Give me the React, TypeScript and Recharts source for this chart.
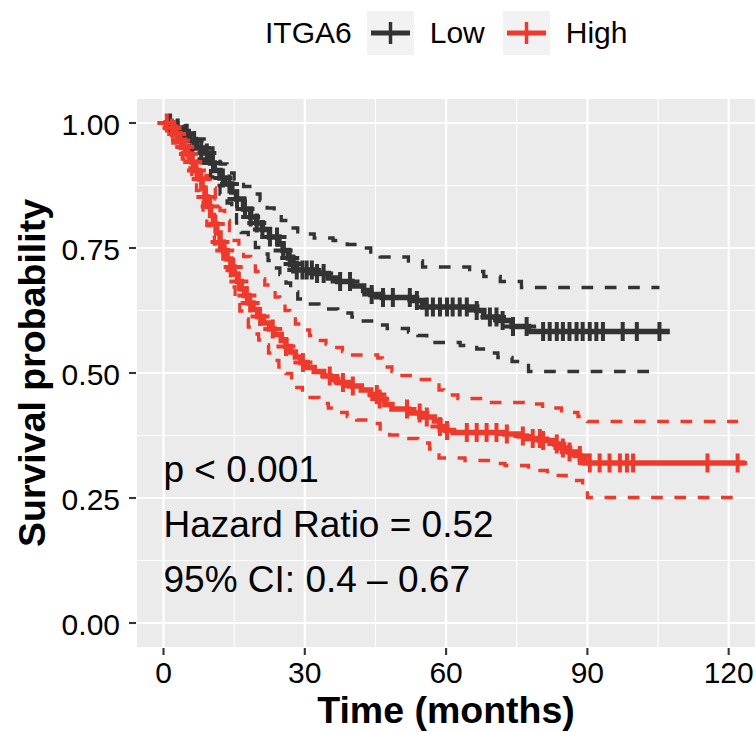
import React from 'react';
import { ComposedChart, Line, Scatter, XAxis, YAxis, CartesianGrid, ReferenceDot } from 'recharts';

const FONT = '"Liberation Sans", Arial, Helvetica, sans-serif';
const LOW_COLOR = '#333333';
const HIGH_COLOR = '#EE3A2C';

const legendTitle = 'ITGA6';
const groups = ['Low', 'High'];

const xTicks = [0, 30, 60, 90, 120];
const xMinor = [15, 45, 75, 105];
const yTicks = [0, 0.25, 0.5, 0.75, 1];
const yMinor = [0.125, 0.375, 0.625, 0.875];

// [time, survival] step points
const lowCurve = [
  [0, 1], [2, 0.99], [4, 0.978], [5.5, 0.965], [7, 0.95], [8.5, 0.94], [10, 0.92], [10.8, 0.905],
  [12, 0.89], [13, 0.878], [14.5, 0.862], [15.5, 0.848], [17, 0.828], [18.5, 0.812], [19.8, 0.8],
  [21, 0.787], [22.5, 0.772], [24.5, 0.758], [25.4, 0.745], [26.5, 0.73], [27.5, 0.718], [28.3, 0.706],
  [32.5, 0.699], [35, 0.69], [37, 0.683], [40, 0.674], [42.5, 0.665], [44, 0.657], [46.5, 0.651],
  [53, 0.645], [55, 0.632], [66.5, 0.625], [68, 0.612], [71, 0.605], [74, 0.593], [77.5, 0.583], [107.5, 0.583],
];
const lowUpper = [
  [0, 1], [3, 0.995], [5, 0.985], [7, 0.968], [9, 0.95], [10.5, 0.935], [12, 0.918], [13.5, 0.9],
  [15, 0.888], [17, 0.873], [19, 0.858], [20.5, 0.845], [22, 0.83], [23.5, 0.818], [25, 0.805],
  [26.5, 0.79], [28.5, 0.778], [32, 0.77], [36, 0.765], [39, 0.757], [41, 0.75], [44, 0.738],
  [46, 0.732], [52, 0.724], [55, 0.712], [65, 0.703], [68, 0.693], [71.5, 0.683], [76, 0.671], [105.3, 0.671],
];
const lowLower = [
  [0, 1], [2, 0.98], [4, 0.962], [5.5, 0.945], [7, 0.928], [8.5, 0.915], [10, 0.892], [11, 0.875],
  [12, 0.858], [13.5, 0.84], [14.5, 0.822], [15.5, 0.8], [16.5, 0.781], [18, 0.765], [19.5, 0.751],
  [21, 0.738], [22.2, 0.725], [23.5, 0.71], [24.7, 0.697], [26, 0.68], [27, 0.662], [28.5, 0.648],
  [29.6, 0.638], [33, 0.628], [37, 0.62], [40, 0.612], [42, 0.604], [45, 0.596], [47.5, 0.589],
  [52, 0.582], [54, 0.575], [55.9, 0.561], [63, 0.555], [66.5, 0.548], [68.5, 0.54], [71, 0.531],
  [74, 0.523], [77.5, 0.503], [104, 0.503],
];
const highCurve = [
  [0, 1], [1, 0.99], [2, 0.978], [3, 0.965], [4, 0.952], [5, 0.938], [6, 0.922], [6.8, 0.905],
  [7.5, 0.888], [8.2, 0.87], [8.8, 0.852], [9.4, 0.833], [10, 0.815], [10.6, 0.798], [11.3, 0.78],
  [12, 0.762], [12.7, 0.745], [13.5, 0.728], [14.3, 0.712], [15, 0.698], [15.7, 0.683], [16.5, 0.668],
  [17.2, 0.655], [18, 0.64], [19, 0.627], [20, 0.613], [21.2, 0.6], [22.5, 0.588], [23.5, 0.577],
  [25, 0.565], [26, 0.553], [27, 0.542], [28, 0.532], [29.2, 0.521], [30.5, 0.511], [32, 0.503],
  [34, 0.494], [35.5, 0.487], [37, 0.481], [39.5, 0.474], [42, 0.466], [44, 0.457], [45.5, 0.448],
  [47, 0.437], [48.5, 0.428], [52, 0.42], [54.5, 0.412], [57.5, 0.404], [58.7, 0.393], [60, 0.385],
  [61.5, 0.381], [72.5, 0.378], [75.5, 0.374], [77, 0.369], [80, 0.365], [83, 0.358], [84.5, 0.35],
  [86, 0.342], [87.5, 0.335], [88.5, 0.327], [89.5, 0.32], [123.5, 0.32],
];
const highUpper = [
  [0, 1], [2, 0.995], [3, 0.99], [4, 0.978], [5, 0.966], [6, 0.952], [7, 0.937], [8, 0.92], [9, 0.895],
  [10, 0.87], [11, 0.848], [12, 0.825], [13, 0.805], [14, 0.785], [15, 0.765], [16, 0.75], [17, 0.733],
  [18.5, 0.718], [19.5, 0.703], [20.5, 0.688], [21.5, 0.676], [22.6, 0.665], [23.7, 0.652], [24.7, 0.638],
  [25.8, 0.625], [26.8, 0.612], [28, 0.598], [29.6, 0.586], [31, 0.575], [32.6, 0.565], [34.5, 0.558],
  [36, 0.551], [38, 0.543], [39.6, 0.536], [45.5, 0.53], [46.5, 0.512], [48.5, 0.503], [50, 0.495],
  [53.5, 0.487], [56.5, 0.476], [58.5, 0.466], [59.5, 0.456], [62.5, 0.449], [69, 0.441], [77, 0.438],
  [80.5, 0.43], [84.5, 0.421], [88, 0.413], [90, 0.403], [122, 0.403],
];
const highLower = [
  [0, 1], [1, 0.975], [2, 0.96], [3, 0.945], [4, 0.928], [5, 0.91], [6, 0.89], [7, 0.865], [7.7, 0.845],
  [8.4, 0.815], [9.2, 0.795], [10, 0.775], [10.8, 0.758], [11.7, 0.742], [12.6, 0.728], [13.5, 0.705],
  [14.2, 0.672], [15.2, 0.645], [16.2, 0.624], [17, 0.608], [18, 0.592], [19, 0.578], [20.2, 0.566],
  [21.2, 0.556], [22.3, 0.54], [23.2, 0.525], [24.5, 0.512], [26, 0.499], [27.2, 0.485], [28.3, 0.471],
  [29.5, 0.46], [30.5, 0.451], [33, 0.439], [35, 0.43], [37, 0.421], [39, 0.413], [41, 0.406],
  [43.5, 0.399], [46, 0.382], [48, 0.376], [51, 0.369], [54, 0.36], [56.5, 0.348], [58.5, 0.33],
  [64, 0.325], [69.5, 0.319], [72.5, 0.315], [77.5, 0.305], [81.5, 0.295], [85.5, 0.285], [89, 0.275],
  [90, 0.251], [121, 0.251],
];

// censoring times (months)
const lowCensorTimes = [
  1.4, 3, 4.5, 6.5, 8, 9.2, 10.5, 12.6, 14, 15.6, 17.3, 18.5, 19.8, 21, 22.6, 24.1, 25.4, 26.8, 27.5,
  28.3, 29.5, 30.4, 31.5, 32.6, 34, 37.5, 39.6, 44.2, 46.6, 48.7, 52.3, 53.8, 55.9, 57.2, 58.7, 60.2,
  61.4, 62.9, 64.4, 66.5, 69.3, 70.7, 72, 74.2, 77.1, 80.6, 82, 83.5, 84.8, 86.2, 87.7, 89, 90.5, 91.9,
  93.3, 97.5, 100.5, 105.3,
];
const highCensorTimes = [
  0.7, 1.8, 2.8, 3.6, 4.5, 5.3, 6.2, 7, 8, 9, 9.9, 11, 12, 13, 14.8, 16, 17.7, 18.4, 20.5, 23.2, 26,
  29.6, 35.3, 38.1, 40.2, 45.3, 45.9, 51.7, 54.4, 55.9, 58.7, 60.2, 64.4, 66.5, 68.6, 70.7, 72.9, 76.3,
  78.4, 79.9, 80.6, 83.5, 84.8, 86.2, 88.4, 90.5, 92.6, 94.7, 96.9, 98.4, 99.7, 115.5, 121.9,
];

const notes = ['p < 0.001', 'Hazard Ratio = 0.52', '95% CI: 0.4 \u2013 0.67'];
const noteY = [0.282, 0.172, 0.062];

const X_DOMAIN: [number, number] = [-5.84, 125.8];
const Y_DOMAIN: [number, number] = [-0.05, 1.05];

const toPts = (arr: number[][]) => arr.map(([t, s]) => ({ t, s }));
const stepAt = (curve: number[][], t: number) => {
  let s = curve[0][1];
  for (const [ct, cs] of curve) {
    if (ct <= t) s = cs;
    else break;
  }
  return s;
};
const censorPts = (curve: number[][], times: number[]) => times.map(t => ({ t, s: stepAt(curve, t) }));

const plusShape = (color: string) => (props: any) => {
  const { cx, cy } = props;
  if (cx == null || cy == null) return null;
  return (
    <path
      d={`M${cx - 9.5},${cy}H${cx + 9.5}M${cx},${cy - 9.5}V${cy + 9.5}`}
      stroke={color}
      strokeWidth={4}
      fill="none"
    />
  );
};

const XTick = (props: any) => {
  const { x, y, payload } = props;
  return (
    <text x={x} y={y + 21.3} textAnchor="middle" fontSize={30} fill="#000" fontFamily={FONT}>
      {payload.value}
    </text>
  );
};

const YTick = (props: any) => {
  const { x, y, payload } = props;
  return (
    <text x={x} y={y + 12.3} textAnchor="end" fontSize={30} fill="#000" fontFamily={FONT}>
      {Number(payload.value).toFixed(2)}
    </text>
  );
};

const series = [
  { name: groups[0], color: LOW_COLOR, curve: lowCurve, upper: lowUpper, lower: lowLower, censor: lowCensorTimes },
  { name: groups[1], color: HIGH_COLOR, curve: highCurve, upper: highUpper, lower: highLower, censor: highCensorTimes },
];

function LegendBar() {
  return (
    <div
      style={{
        position: 'absolute', left: 265, top: 11, height: 44, display: 'flex', alignItems: 'center',
        fontSize: 30, color: '#000', fontFamily: FONT, whiteSpace: 'nowrap',
      }}
    >
      <span style={{ marginRight: 15 }}>{legendTitle}</span>
      {series.map(s => (
        <React.Fragment key={s.name}>
          <svg width={47} height={44} style={{ background: '#F2F2F2', marginRight: 16, display: 'block' }}>
            <path d="M4,22H43" stroke={s.color} strokeWidth={5} />
            <path d="M23.5,11V33" stroke={s.color} strokeWidth={3.5} />
          </svg>
          <span style={{ marginRight: 18 }}>{s.name}</span>
        </React.Fragment>
      ))}
    </div>
  );
}

export default function App() {
  return (
    <div style={{ position: 'absolute', left: 0, top: 0, width: 756, height: 732, background: '#fff', fontFamily: FONT }}>
      <ComposedChart width={756} height={732} margin={{ top: 98, right: 0, bottom: 0, left: 0 }}>
        <CartesianGrid xAxisId="minor" yAxisId="minor" fill="#EBEBEB" stroke="#FFFFFF" strokeWidth={1.1} />
        <CartesianGrid stroke="#FFFFFF" strokeWidth={2.2} />
        <XAxis xAxisId="minor" type="number" dataKey="t" domain={X_DOMAIN} ticks={xMinor} allowDataOverflow hide />
        <YAxis yAxisId="minor" type="number" domain={Y_DOMAIN} ticks={yMinor} allowDataOverflow hide />
        <XAxis
          type="number"
          dataKey="t"
          domain={X_DOMAIN}
          ticks={xTicks}
          interval={0}
          allowDataOverflow
          height={84}
          axisLine={false}
          tickSize={7}
          tickMargin={7}
          tickLine={{ stroke: '#333333', strokeWidth: 2.1 }}
          tick={<XTick />}
          label={{
            content: (p: any) => (
              <text
                x={p.viewBox.x + p.viewBox.width / 2}
                y={p.viewBox.y + 75}
                textAnchor="middle"
                fontSize={37.5}
                fontWeight="bold"
                fill="#000"
                fontFamily={FONT}
              >
                Time (months)
              </text>
            ),
          }}
        />
        <YAxis
          type="number"
          domain={Y_DOMAIN}
          ticks={yTicks}
          interval={0}
          allowDataOverflow
          width={136}
          axisLine={false}
          tickSize={7}
          tickMargin={9}
          tickLine={{ stroke: '#333333', strokeWidth: 2.1 }}
          tick={<YTick />}
          label={{
            content: (p: any) => {
              const cx = 45;
              const cy = p.viewBox.y + p.viewBox.height / 2;
              return (
                <text
                  x={cx}
                  y={cy}
                  transform={`rotate(-90, ${cx}, ${cy})`}
                  textAnchor="middle"
                  fontSize={37.5}
                  fontWeight="bold"
                  fill="#000"
                  fontFamily={FONT}
                >
                  Survival probability
                </text>
              );
            },
          }}
        />
        {series.map(s => (
          <Line
            key={`${s.name}-up`}
            data={toPts(s.upper)}
            dataKey="s"
            type="stepAfter"
            stroke={s.color}
            strokeWidth={3.3}
            strokeDasharray="11.7 11.6"
            dot={false}
            activeDot={false}
            isAnimationActive={false}
          />
        ))}
        {series.map(s => (
          <Line
            key={`${s.name}-lo`}
            data={toPts(s.lower)}
            dataKey="s"
            type="stepAfter"
            stroke={s.color}
            strokeWidth={3.3}
            strokeDasharray="11.7 11.6"
            dot={false}
            activeDot={false}
            isAnimationActive={false}
          />
        ))}
        {series.map(s => (
          <Line
            key={`${s.name}-km`}
            data={toPts(s.curve)}
            dataKey="s"
            type="stepAfter"
            stroke={s.color}
            strokeWidth={5.5}
            dot={false}
            activeDot={false}
            isAnimationActive={false}
          />
        ))}
        {series.map(s => (
          <Scatter
            key={`${s.name}-cens`}
            data={censorPts(s.curve, s.censor)}
            dataKey="s"
            shape={plusShape(s.color)}
            isAnimationActive={false}
          />
        ))}
        {notes.map((n, i) => (
          <ReferenceDot
            key={n}
            x={0}
            y={noteY[i]}
            r={0}
            fill="none"
            stroke="none"
            label={{
              content: (p: any) => (
                <text x={p.viewBox.x} y={p.viewBox.y} fontSize={37} fill="#000" fontFamily={FONT}>
                  {n}
                </text>
              ),
            }}
          />
        ))}
      </ComposedChart>
      <LegendBar />
    </div>
  );
}
